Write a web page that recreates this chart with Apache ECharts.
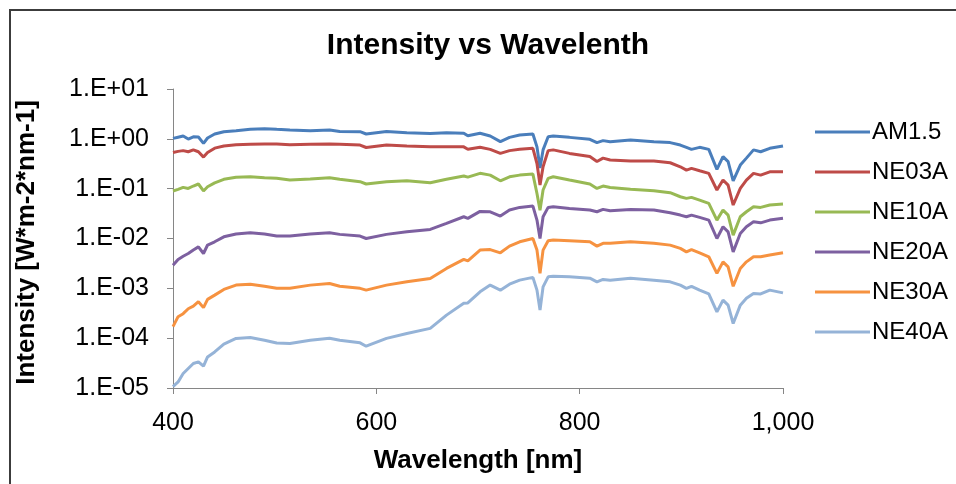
<!DOCTYPE html>
<html>
<head>
<meta charset="utf-8">
<script src="https://cdn.jsdelivr.net/npm/echarts@6/dist/echarts.min.js"></script>
<style>
html,body{margin:0;padding:0;background:#fff;}
#chart{width:956px;height:484px;}
</style>
</head>
<body>
<div id="chart"></div>
<script>
const chartTitle = 'Intensity vs Wavelenth';
const xAxisName = 'Wavelength [nm]';
const yAxisName = 'Intensity [W*m-2*nm-1]';
const seriesNames = ['AM1.5', 'NE03A', 'NE10A', 'NE20A', 'NE30A', 'NE40A'];
const xTickLabels = ['400', '600', '800', '1,000'];
const yTickLabels = ['1.E-05', '1.E-04', '1.E-03', '1.E-02', '1.E-01', '1.E+00', '1.E+01'];

const wavelength = [400, 405, 410, 415, 420, 425, 430, 434, 441, 450,
  462, 476, 490, 502, 515, 535, 554, 564, 584, 590,
  610, 630, 653, 669, 686, 690, 702, 712, 722, 731,
  741, 754, 758, 761, 764, 769, 774, 790, 810, 817,
  823, 830, 850, 873, 889, 899, 905, 910, 918, 927,
  935, 941, 946, 951, 958, 964, 971, 978, 987, 1000];

const am15 = [1.02, 1.08, 1.14, 0.99, 1.10, 1.09, 0.81, 1.04, 1.25, 1.39,
  1.46, 1.55, 1.60, 1.55, 1.50, 1.46, 1.50, 1.41, 1.39, 1.25,
  1.41, 1.32, 1.28, 1.32, 1.30, 1.15, 1.29, 1.14, 0.88, 1.07,
  1.19, 1.25, 0.69, 0.26, 0.60, 1.10, 1.14, 1.07, 0.98, 0.84,
  0.92, 0.87, 0.95, 0.87, 0.84, 0.75, 0.675, 0.615, 0.675, 0.615,
  0.244, 0.44, 0.35, 0.144, 0.298, 0.41, 0.60, 0.55, 0.645, 0.72];

const ne03a = [0.53, 0.56, 0.58, 0.55, 0.60, 0.55, 0.43, 0.53, 0.65, 0.72,
  0.76, 0.78, 0.79, 0.79, 0.76, 0.78, 0.79, 0.78, 0.75, 0.67,
  0.75, 0.72, 0.69, 0.69, 0.69, 0.62, 0.675, 0.615, 0.51, 0.58,
  0.615, 0.645, 0.32, 0.118, 0.275, 0.58, 0.60, 0.51, 0.44, 0.35,
  0.41, 0.375, 0.36, 0.36, 0.331, 0.275, 0.236, 0.256, 0.229, 0.203,
  0.094, 0.149, 0.118, 0.047, 0.101, 0.149, 0.203, 0.187, 0.218, 0.218];

const ne10a = [0.090, 0.097, 0.106, 0.101, 0.113, 0.124, 0.090, 0.109, 0.131, 0.154,
  0.169, 0.173, 0.165, 0.161, 0.149, 0.156, 0.166, 0.154, 0.138, 0.124,
  0.138, 0.144, 0.131, 0.154, 0.180, 0.170, 0.203, 0.187, 0.144, 0.173,
  0.187, 0.196, 0.080, 0.037, 0.094, 0.161, 0.173, 0.149, 0.124, 0.101,
  0.113, 0.106, 0.097, 0.091, 0.083, 0.0688, 0.0638, 0.0668, 0.059, 0.0507,
  0.0234, 0.0372, 0.0295, 0.0117, 0.0273, 0.0344, 0.0434, 0.0421, 0.0469, 0.0491];

const ne20a = [0.0029, 0.0038, 0.0044, 0.0050, 0.0059, 0.0068, 0.0050, 0.0074, 0.0086, 0.0108,
  0.0123, 0.0130, 0.0123, 0.0112, 0.0112, 0.0123, 0.0130, 0.0121, 0.0112, 0.0100,
  0.0121, 0.0136, 0.0152, 0.0201, 0.0273, 0.0254, 0.0350, 0.0344, 0.0282, 0.0372,
  0.0421, 0.0448, 0.0234, 0.0100, 0.0273, 0.0421, 0.0434, 0.0402, 0.0372, 0.0344,
  0.0384, 0.0360, 0.0384, 0.0372, 0.0328, 0.0295, 0.0273, 0.0295, 0.0265, 0.0234,
  0.0100, 0.0172, 0.0136, 0.0054, 0.0126, 0.0172, 0.0216, 0.0206, 0.0234, 0.0254];

const ne30a = [0.00017, 0.00027, 0.00031, 0.00039, 0.00044, 0.00054, 0.00041, 0.00060, 0.00073, 0.00095,
  0.00116, 0.00121, 0.00110, 0.00100, 0.00100, 0.00116, 0.00125, 0.00110, 0.00100, 0.00092,
  0.00116, 0.00135, 0.00158, 0.00251, 0.00380, 0.00356, 0.00585, 0.00600, 0.00516, 0.00703,
  0.00860, 0.01000, 0.00585, 0.00200, 0.00585, 0.00900, 0.00930, 0.00900, 0.00860, 0.00703,
  0.00800, 0.00800, 0.00860, 0.00800, 0.00736, 0.00632, 0.00540, 0.00600, 0.00516, 0.00430,
  0.00200, 0.00340, 0.00270, 0.00110, 0.00250, 0.00340, 0.00430, 0.00430, 0.00465, 0.00516];

const ne40a = [1.07e-5, 1.32e-5, 1.95e-5, 2.46e-5, 3.1e-5, 3.34e-5, 2.74e-5, 4.2e-5, 5.3e-5, 7.6e-5,
  9.9e-5, 1.03e-4, 9.1e-5, 8.0e-5, 7.8e-5, 9.1e-5, 1.0e-4, 9.1e-5, 8.05e-5, 6.9e-5,
  9.9e-5, 1.24e-4, 1.57e-4, 2.9e-4, 5.0e-4, 5.1e-4, 8.5e-4, 1.16e-3, 9.2e-4, 1.21e-3,
  1.46e-3, 1.66e-3, 9.2e-4, 3.65e-4, 1.07e-3, 1.7e-3, 1.74e-3, 1.7e-3, 1.6e-3, 1.35e-3,
  1.51e-3, 1.46e-3, 1.6e-3, 1.46e-3, 1.35e-3, 1.16e-3, 1.0e-3, 1.1e-3, 9.2e-4, 7.7e-4,
  3.37e-4, 5.8e-4, 4.6e-4, 1.97e-4, 4.6e-4, 6.3e-4, 7.9e-4, 7.7e-4, 9.2e-4, 8.1e-4];

const seriesValues = [am15, ne03a, ne10a, ne20a, ne30a, ne40a];
const seriesColors = ['#4A7EBB', '#BE4B48', '#98B954', '#7D60A0', '#F69240', '#95B3D7'];

const FONT = '"Liberation Sans", Arial, sans-serif';
const AXIS_COLOR = '#868686';

const chart = echarts.init(document.getElementById('chart'), null, {renderer: 'canvas'});

const series = seriesNames.map((name, i) => ({
  name: name,
  type: 'line',
  data: wavelength.map((w, j) => [w, seriesValues[i][j]]),
  showSymbol: false,
  symbol: 'none',
  smooth: false,
  lineStyle: {width: 3, color: seriesColors[i]},
  itemStyle: {color: seriesColors[i]},
  animation: false
}));

chart.setOption({
  animation: false,
  backgroundColor: '#ffffff',
  graphic: [
    {
      type: 'rect',
      silent: true,
      shape: {x: 10, y: 10, width: 1000, height: 1000},
      style: {fill: 'none', stroke: '#3c3c3c', lineWidth: 2}
    },
    {
      type: 'text',
      silent: true,
      x: 488,
      y: 31,
      style: {
        text: chartTitle,
        font: 'bold 30px ' + FONT,
        fill: '#000',
        textAlign: 'center',
        textVerticalAlign: 'top'
      }
    }
  ],
  grid: {left: 173, right: 173, top: 89, bottom: 96, containLabel: false},
  legend: {
    orient: 'vertical',
    left: 810,
    top: 115,
    itemWidth: 55,
    itemHeight: 3,
    itemGap: 16,
    icon: 'rect',
    textStyle: {fontFamily: FONT, fontSize: 24, color: '#000', lineHeight: 24, padding: [0, 0, 0, -3]},
    data: seriesNames
  },
  xAxis: {
    type: 'value',
    min: 400,
    max: 1000,
    interval: 200,
    name: xAxisName,
    nameLocation: 'middle',
    nameGap: 60,
    nameTextStyle: {fontFamily: FONT, fontSize: 26, fontWeight: 'bold', color: '#000'},
    axisLine: {show: true, lineStyle: {color: AXIS_COLOR, width: 1}},
    axisTick: {show: true, length: 6, lineStyle: {color: AXIS_COLOR}},
    splitLine: {show: false},
    axisLabel: {
      fontFamily: FONT, fontSize: 25, color: '#000', margin: 23,
      formatter: v => xTickLabels[Math.round((v - 400) / 200)] || ''
    }
  },
  yAxis: {
    type: 'log',
    logBase: 10,
    min: 1e-5,
    max: 10,
    splitNumber: 6,
    name: yAxisName,
    nameLocation: 'middle',
    nameGap: 133,
    nameTextStyle: {fontFamily: FONT, fontSize: 26, fontWeight: 'bold', color: '#000', padding: [0, 0, 0, -8]},
    axisLine: {show: true, lineStyle: {color: AXIS_COLOR, width: 1}},
    axisTick: {show: true, length: 6, lineStyle: {color: AXIS_COLOR}},
    splitLine: {show: false},
    minorTick: {show: false},
    axisLabel: {
      fontFamily: FONT, fontSize: 25, color: '#000', margin: 24,
      formatter: v => yTickLabels[Math.round(Math.log10(v)) + 5] || ''
    }
  },
  series: series
});
</script>
</body>
</html>
